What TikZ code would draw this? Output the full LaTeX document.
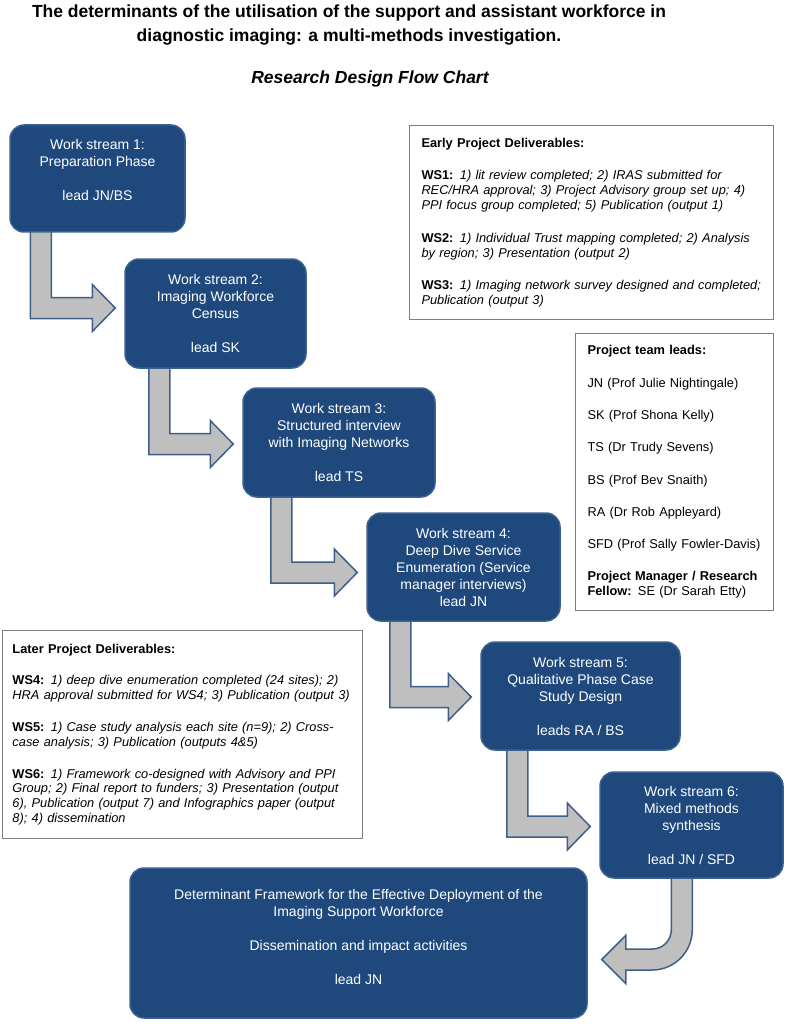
\documentclass[tikz,border=0pt]{standalone}
\usepackage{fontspec}
\setmainfont{Liberation Sans}
\usetikzlibrary{positioning,calc,backgrounds}

\definecolor{wsblue}{HTML}{1F497D}
\definecolor{wsedge}{HTML}{3A6192}
\definecolor{flowgray}{HTML}{BFBFBF}
\definecolor{flowedge}{HTML}{3F5F88}
\definecolor{noteedge}{HTML}{7F7F7F}

\tikzset{
  wsbox/.style={draw=wsedge, line width=1.5pt, fill=wsblue, rounded corners=14pt,
    text=white, align=center, inner sep=2pt, font=\fontsize{14}{17}\selectfont},
  notebox/.style={draw=noteedge, line width=1pt, fill=white, align=left,
    anchor=north west, inner xsep=12pt, font=\fontsize{12.8}{14.8}\selectfont},
  flowarrow/.style={draw=flowedge, line width=1.5pt, fill=flowgray, line join=miter},
}

% L-shaped block arrow: from box, to box, shaft offset, vertical shift
\newcommand{\stepflow}[4]{%
  \draw[flowarrow] let \p1=(#1.south west), \p2=($(#2.west)+(0,#4)$) in
    (\x1+#3-10.5pt,\y1+3pt) -- (\x1+#3-10.5pt,\y2-10.5pt) -- (\x2-32pt,\y2-10.5pt)
    -- (\x2-32pt,\y2-23.5pt) -- (\x2-9pt,\y2) -- (\x2-32pt,\y2+23.5pt)
    -- (\x2-32pt,\y2+10.5pt) -- (\x1+#3+10.5pt,\y2+10.5pt)
    -- (\x1+#3+10.5pt,\y1+3pt) -- cycle;
}

\begin{document}
\begin{tikzpicture}[x=1pt, y=-1pt]
  \useasboundingbox (0,0) rectangle (787,1024);

  % Title
  \node[align=center, font=\fontsize{17.5}{24.5}\selectfont\bfseries] (title) at (349,25)
    {The determinants of the utilisation of the support and assistant workforce in\\
     diagnostic imaging: a multi-methods investigation.};
  \node[font=\fontsize{17.5}{20}\selectfont\bfseries\itshape] (subtitle) at (370,79)
    {Research Design Flow Chart};

  % Work streams
  \node[wsbox, minimum width=175pt, minimum height=107pt] (ws1) at (97.5,178.5)
    {Work stream 1:\\Preparation Phase\\[17pt]lead JN/BS\\ ~};
  \node[wsbox, minimum width=181pt, minimum height=109pt] (ws2) at (215.5,313.5)
    {Work stream 2:\\Imaging Workforce\\Census\\[17pt]lead SK};
  \node[wsbox, minimum width=192pt, minimum height=109pt] (ws3) at (339,442.5)
    {Work stream 3:\\Structured interview\\with Imaging Networks\\[17pt]lead TS};
  \node[wsbox, minimum width=193pt, minimum height=108pt] (ws4) at (463.5,567)
    {Work stream 4:\\Deep Dive Service\\Enumeration (Service\\manager interviews)\\lead JN};
  \node[wsbox, minimum width=199pt, minimum height=108pt] (ws5) at (580.5,696)
    {Work stream 5:\\Qualitative Phase Case\\Study Design\\[17pt]leads RA / BS};
  \node[wsbox, minimum width=183pt, minimum height=106pt] (ws6) at (691.5,825)
    {Work stream 6:\\Mixed methods\\synthesis\\[17pt]lead JN / SFD};
  \node[wsbox, minimum width=457pt, minimum height=150pt] (final) at (358.5,943)
    {Determinant Framework for the Effective Deployment of the\\
     Imaging Support Workforce\\[17pt]Dissemination and impact activities\\[17pt]
     lead JN\\[-4pt] ~};

  % Deliverables and team
  \node[notebox, minimum width=364pt, minimum height=194pt, text width=340pt] (early) at (409,125)
    {\textbf{Early Project Deliverables:}\\[18pt]
     \textbf{WS1:} \textit{1) lit review completed; 2) IRAS submitted for}\\
     \textit{REC/HRA approval; 3) Project Advisory group set up; 4)}\\
     \textit{PPI focus group completed; 5) Publication (output 1)}\\[18pt]
     \textbf{WS2:} \textit{1) Individual Trust mapping completed; 2) Analysis}\\
     \textit{by region; 3) Presentation (output 2)}\\[18pt]
     \textbf{WS3:} \textit{1) Imaging network survey designed and completed;}\\
     \textit{Publication (output 3)}};
  \node[notebox, minimum width=198pt, minimum height=277pt, text width=174pt] (team) at (575,333)
    {\textbf{Project team leads:}\\[17.5pt]
     JN (Prof Julie Nightingale)\\[17.5pt]
     SK (Prof Shona Kelly)\\[17.5pt]
     TS (Dr Trudy Sevens)\\[17.5pt]
     BS (Prof Bev Snaith)\\[17.5pt]
     RA (Dr Rob Appleyard)\\[17.5pt]
     SFD (Prof Sally Fowler-Davis)\\[17.5pt]
     \textbf{Project Manager / Research}\\
     \textbf{Fellow:} SE (Dr Sarah Etty)};
  \node[notebox, inner xsep=10pt, minimum width=360pt, minimum height=208pt, text width=340pt] (later) at (2,630)
    {\textbf{Later Project Deliverables:}\\[17pt]
     \textbf{WS4:} \textit{1) deep dive enumeration completed (24 sites); 2)}\\
     \textit{HRA approval submitted for WS4; 3) Publication (output 3)}\\[17pt]
     \textbf{WS5:} \textit{1) Case study analysis each site (n=9); 2) Cross-}\\
     \textit{case analysis; 3) Publication (outputs 4\&5)}\\[17pt]
     \textbf{WS6:} \textit{1) Framework co-designed with Advisory and PPI}\\
     \textit{Group; 2) Final report to funders; 3) Presentation (output}\\
     \textit{6), Publication (output 7) and Infographics paper (output}\\
     \textit{8); 4) dissemination}};

  % Block arrows between the work streams
  \begin{scope}[on background layer]
    \stepflow{ws1}{ws2}{31.5pt}{5.5pt}
    \stepflow{ws2}{ws3}{35pt}{-1.5pt}
    \stepflow{ws3}{ws4}{39pt}{-5.5pt}
    \stepflow{ws4}{ws5}{34pt}{-1pt}
    \stepflow{ws5}{ws6}{37pt}{-1.5pt}
    % curved arrow into the framework box
    \draw[flowarrow] let \p1=(ws6.south west), \p2=($(final.east)+(14pt,-16.5pt)$) in
      (\x1+72pt,\y1+3pt) -- (\x1+72pt,\y2+29.5pt)
      .. controls (\x1+72pt,\y2+19pt) and (\x1+63.5pt,\y2+10.5pt) .. (\x1+53pt,\y2+10.5pt)
      -- (\x2+24pt,\y2+10.5pt) -- (\x2+24pt,\y2+24pt) -- (\x2,\y2)
      -- (\x2+24pt,\y2-24pt) -- (\x2+24pt,\y2-10.5pt) -- (\x1+53pt,\y2-10.5pt)
      .. controls (\x1+75pt,\y2-10.5pt) and (\x1+93pt,\y2+7.5pt) .. (\x1+93pt,\y2+29.5pt)
      -- (\x1+93pt,\y1+3pt) -- cycle;
  \end{scope}
\end{tikzpicture}
\end{document}
